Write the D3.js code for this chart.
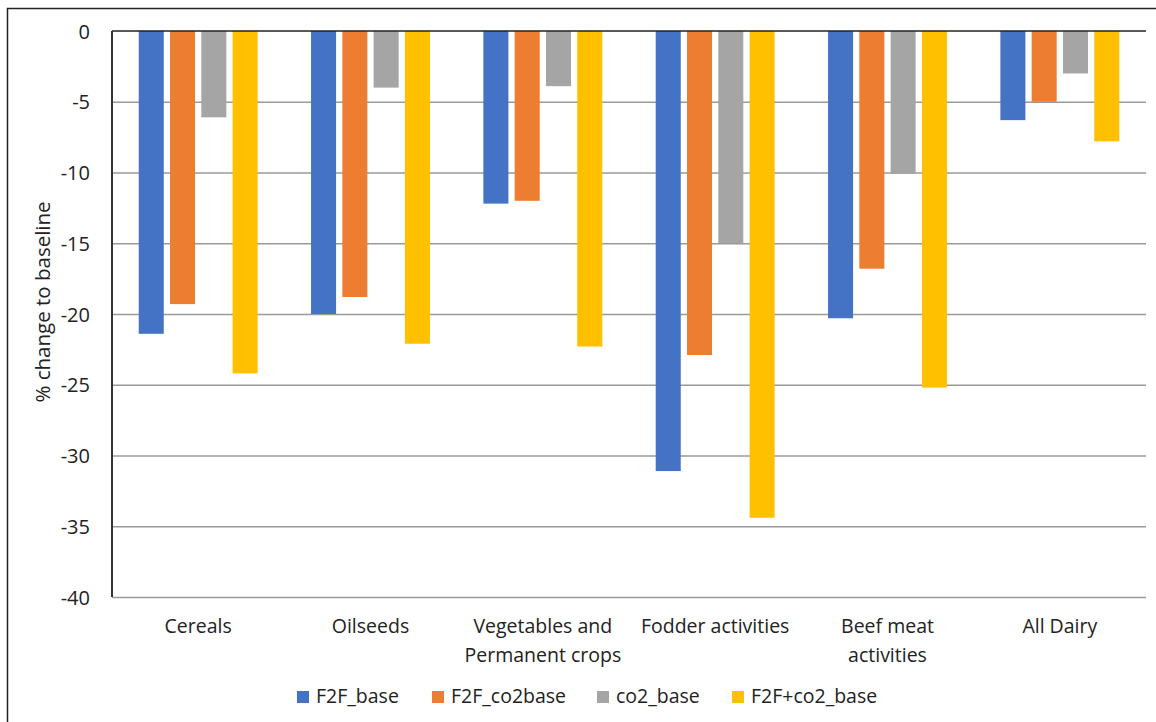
<!DOCTYPE html>
<html><head><meta charset="utf-8">
<script src="https://cdn.jsdelivr.net/npm/d3@7"></script>
<style>body{margin:0;background:#fff;} text{font-family:"Open Sans","Liberation Sans",sans-serif;}</style>
</head><body>
<svg id="c" width="1156" height="722"></svg>
<script>
const categories = [["Cereals"],["Oilseeds"],["Vegetables and","Permanent crops"],["Fodder activities"],["Beef meat","activities"],["All Dairy"]];
const seriesNames = ["F2F_base","F2F_co2base","co2_base","F2F+co2_base"];
const colors = ["#4472C4","#ED7D31","#A5A5A5","#FFC000"];
const F2F_base    = [-21.4,-20.0,-12.2,-31.1,-20.3,-6.3];
const F2F_co2base = [-19.3,-18.8,-12.0,-22.9,-16.8,-5.0];
const co2_base    = [-6.1,-4.0,-3.9,-15.0,-10.1,-3.0];
const F2F_co2_base= [-24.2,-22.1,-22.3,-34.4,-25.2,-7.8];
const seriesValues = [F2F_base,F2F_co2base,co2_base,F2F_co2_base];
const yTicks = [0,-5,-10,-15,-20,-25,-30,-35,-40];

const svg = d3.select("#c");
svg.append("rect").attr("x",7.5).attr("y",8.5).attr("width",1170).attr("height",740).attr("fill","none").attr("stroke","#222").attr("stroke-width",1.5);

const L=112, R=1146, T=31, B=597;
const y = d3.scaleLinear().domain([0,-40]).range([T,B]);
const x0 = d3.scaleBand().domain(d3.range(categories.length)).range([L,R]).paddingInner(0.31).paddingOuter(0.155);
const x1 = d3.scaleBand().domain(d3.range(seriesNames.length)).range([0,x0.bandwidth()]).paddingInner(0.2);

// gridlines
svg.append("g").selectAll("line").data(yTicks.filter(d=>d!==0)).join("line")
 .attr("x1",L).attr("x2",R).attr("y1",d=>y(d)+0.5).attr("y2",d=>y(d)+0.5)
 .attr("stroke","#9a9a9a").attr("stroke-width",1.5);

// bars
const g = svg.append("g");
categories.forEach((c,i)=>{
  seriesValues.forEach((vals,s)=>{
    g.append("rect").attr("x",x0(i)+x1(s)).attr("width",x1.bandwidth())
     .attr("y",y(0)).attr("height",y(vals[i])-y(0)).attr("fill",colors[s]);
  });
});

// zero line and left axis
svg.append("line").attr("x1",L).attr("x2",R).attr("y1",y(0)).attr("y2",y(0)).attr("stroke","#222").attr("stroke-width",1.5);
svg.append("line").attr("x1",L).attr("x2",L).attr("y1",T).attr("y2",B).attr("stroke","#333").attr("stroke-width",2);

// y axis labels
const yAxis = d3.axisLeft(y).tickValues(yTicks).tickSize(0).tickPadding(22).tickFormat(d=>String(d));
const ya = svg.append("g").attr("transform",`translate(${L},0)`).call(yAxis);
ya.select(".domain").remove();
ya.selectAll("text").attr("font-size",20).attr("fill","#222").style("font-family",'"Open Sans",sans-serif').attr("dy","0.35em");

// category labels
const xl = svg.append("g");
categories.forEach((c,i)=>{
  const cx = x0(i)+x0.bandwidth()/2;
  c.forEach((line,j)=>{
    xl.append("text").attr("x",cx).attr("y",633+j*29).attr("text-anchor","middle").attr("font-size",19.5).attr("fill","#222").text(line);
  });
});

// y title
svg.append("text").attr("transform","translate(50,302) rotate(-90)").attr("text-anchor","middle").attr("font-size",20.5).attr("fill","#222").text("% change to baseline");

// legend
const legX = [297,432,597,732];
seriesNames.forEach((n,s)=>{
  svg.append("rect").attr("x",legX[s]).attr("y",691).attr("width",12).attr("height",12).attr("fill",colors[s]);
  svg.append("text").attr("x",legX[s]+19).attr("y",703).attr("font-size",19.5).attr("fill","#222").text(n);
});
</script>
</body></html>
